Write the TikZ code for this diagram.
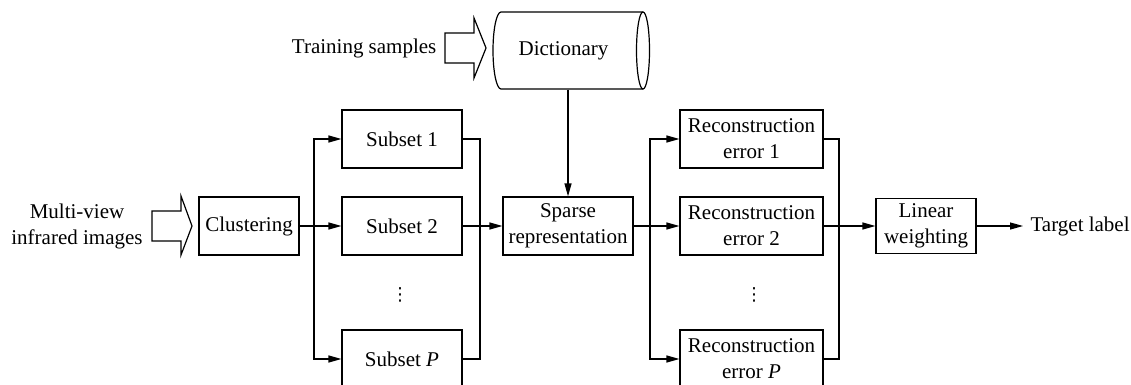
\documentclass[tikz,border=0pt]{standalone}
\usepackage{fontspec}
\setmainfont{Liberation Serif}
\newfontfamily\dotsfont{DejaVu Sans}
\usetikzlibrary{arrows.meta}
\begin{document}
\begin{tikzpicture}[x=1pt,y=-1pt,
  font=\fontsize{21}{26}\selectfont,
  every node/.style={inner sep=0pt, align=center},
  blk/.style={draw, line width=1.2pt, minimum height=58pt},
  conn/.style={line width=1.2pt},
  arr/.style={conn, -{Triangle[length=13pt,width=7pt]}},
  vdot/.style={font=\dotsfont\fontsize{18}{18}\selectfont},
  bigarrow/.style={draw, line width=1.2pt, line join=miter},
  line width=1.2pt]
\useasboundingbox (0,0) rectangle (1131,385);
\clip (0,0) rectangle (1131,385);

% texts and boxes
\node[anchor=east] (train) at (437,48) {Training samples};
\node[minimum width=150pt, minimum height=77pt] (dict) at (563.5,50.5) {Dictionary};
\node (mv) at (77,226.5) {Multi-view\\infrared images};
\node[blk, minimum width=100pt] (clu) at (249,226) {Clustering};
\node[blk, minimum width=120pt] (s1) at (402,139) {Subset 1};
\node[blk, minimum width=120pt] (s2) at (402,226) {Subset 2};
\node[vdot] (sd) at (400,295) {⋮};
\node[blk, minimum width=120pt] (sp) at (402,359) {Subset \textit{P}};
\node[blk, minimum width=130pt] (sr) at (568,226) {Sparse\\representation};
\node[blk, minimum width=143pt] (r1) at (751.5,139) {Reconstruction\\error 1};
\node[blk, minimum width=143pt] (r2) at (751.5,226) {Reconstruction\\error 2};
\node[vdot] (rd) at (754,295) {⋮};
\node[blk, minimum width=143pt] (rp) at (751.5,359) {Reconstruction\\error \textit{P}};
\node[blk, minimum width=100pt, minimum height=55pt] (lw) at (926,226) {Linear\\weighting};
\node[anchor=west] (tl) at (1030,226) {Target label};

% dictionary cylinder outline
\draw (501,12) -- (643,12) (643,89) -- (501,89)
  arc[start angle=270, end angle=90, x radius=8pt, y radius=38.5pt];
\draw (643,50.5) ellipse [x radius=6.5pt, y radius=38.5pt];

% block arrows
\draw[bigarrow] (445,33) -- (474,33) -- (474,18) -- (486,48) -- (474,78) -- (474,63) -- (445,63) -- cycle;
\draw[bigarrow] (152,211) -- (181,211) -- (181,196) -- (192,226) -- (181,255) -- (181,241) -- (152,241) -- cycle;

% branch coordinates
\coordinate (lb) at (314,226);
\coordinate (rc) at (480,226);
\coordinate (lb2) at (650,226);
\coordinate (rc2) at (839,226);

% connectors
\draw[arr] (clu.east) -- (s2.west);
\draw[arr] (lb) |- (s1.west);
\draw[arr] (lb) |- (sp.west);
\draw[conn] (s1.east) -| (rc);
\draw[conn] (sp.east) -| (rc);
\draw[arr] (s2.east) -- (sr.west);
\draw[arr] (dict.south -| sr.north) -- (sr.north);
\draw[arr] (sr.east) -- (r2.west);
\draw[arr] (lb2) |- (r1.west);
\draw[arr] (lb2) |- (rp.west);
\draw[conn] (r1.east) -| (rc2);
\draw[conn] (rp.east) -| (rc2);
\draw[arr] (r2.east) -- (lw.west);
\draw[arr, shorten >=7pt] (lw.east) -- (tl.west);
\end{tikzpicture}
\end{document}
